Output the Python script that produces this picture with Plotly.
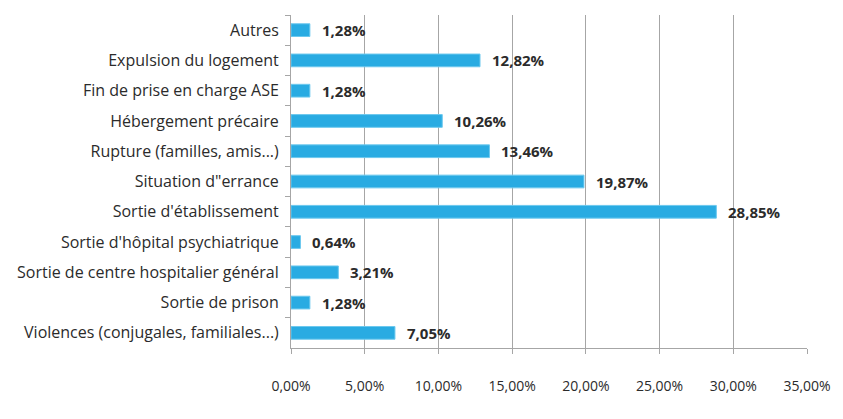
import plotly.graph_objects as go

# Motifs d'arrivée et leur part (%)
categories = [
    "Autres",
    "Expulsion du logement",
    "Fin de prise en charge ASE",
    "Hébergement précaire",
    "Rupture (familles, amis...)",
    "Situation d\"errance",
    "Sortie d'établissement",
    "Sortie d'hôpital psychiatrique",
    "Sortie de centre hospitalier général",
    "Sortie de prison",
    "Violences (conjugales, familiales...)",
]
values = [1.28, 12.82, 1.28, 10.26, 13.46, 19.87, 28.85, 0.64, 3.21, 1.28, 7.05]

x_ticks = [0, 5, 10, 15, 20, 25, 30, 35]


def fr_pct(v):
    return f"{v:.2f}".replace(".", ",") + "%"


FONT = "'Open Sans', Lato, sans-serif"
TEXT = "#2b2b2b"
GRID = "#A6A6A6"

fig = go.Figure(
    go.Bar(
        y=categories,
        x=values,
        orientation="h",
        width=0.42,
        marker=dict(color="#29ABE2", line=dict(color="#6CC8EE", width=1)),
        hoverinfo="skip",
    )
)

# Data labels to the right of each bar
for cat, v in zip(categories, values):
    fig.add_annotation(
        x=v, y=cat, xref="x", yref="y",
        text=f"<b>{fr_pct(v)}</b>",
        showarrow=False, xanchor="left", yanchor="middle",
        xshift=10,
        font=dict(family=FONT, size=15, color=TEXT),
    )

fig.update_layout(
    width=843, height=419,
    margin=dict(l=291, r=30, t=15, b=71),
    paper_bgcolor="white", plot_bgcolor="white",
    showlegend=False,
    bargap=0.58,
)
fig.update_xaxes(
    range=[0, 35],
    tickvals=x_ticks,
    ticktext=[fr_pct(t) for t in x_ticks],
    showgrid=True, gridcolor=GRID, gridwidth=1,
    zeroline=False,
    showline=True, linecolor=GRID, linewidth=1,
    ticks="outside", ticklen=5, tickcolor=GRID,
    ticklabelstandoff=20,
    tickfont=dict(family=FONT, size=14, color=TEXT),
    fixedrange=True,
)
fig.update_yaxes(
    autorange="reversed",
    showline=True, linecolor=GRID, linewidth=1,
    ticks="outside", ticklen=5, tickcolor=GRID,
    tickson="boundaries",
    showgrid=False,
    ticklabelstandoff=8,
    tickfont=dict(family=FONT, size=16, color=TEXT),
    fixedrange=True,
)

fig.write_html("out.html")
